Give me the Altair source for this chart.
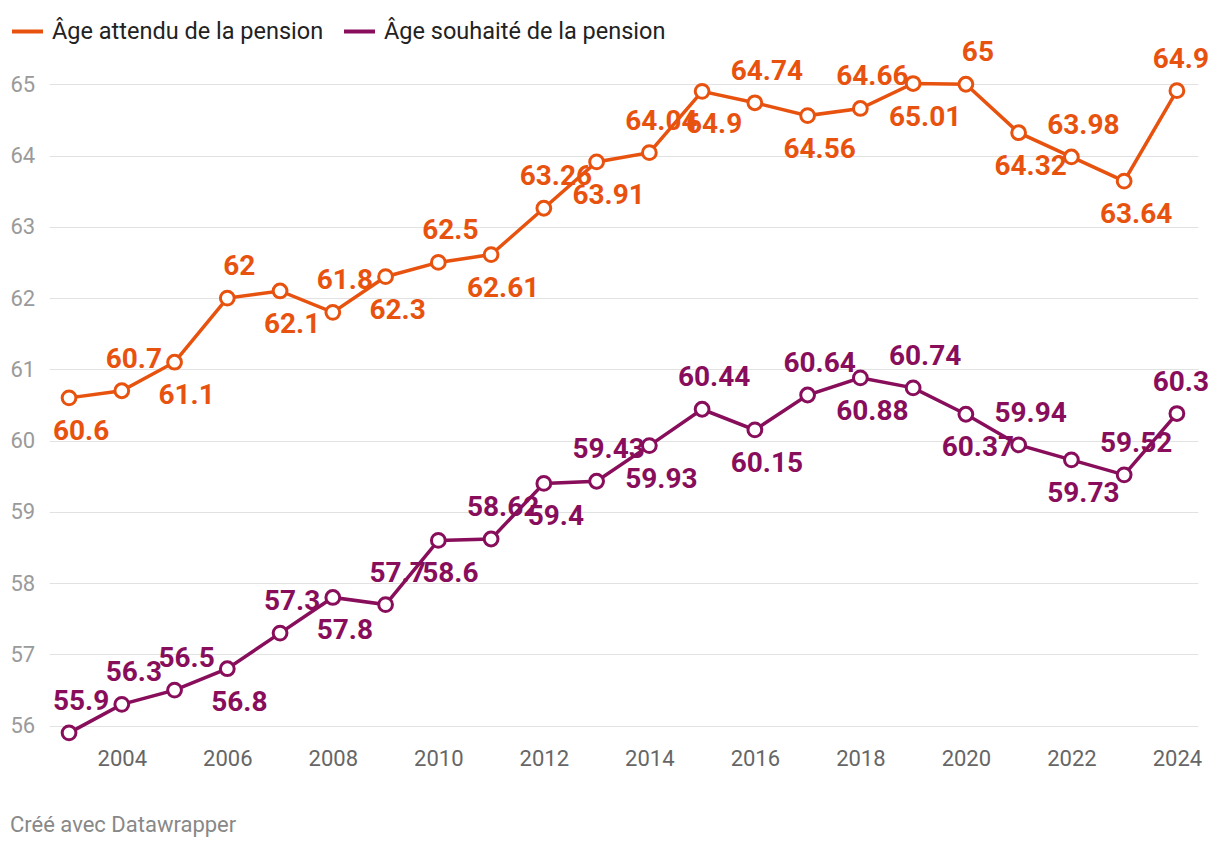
import altair as alt
import pandas as pd

years = list(range(2003, 2025))
expected = [60.6, 60.7, 61.1, 62, 62.1, 61.8, 62.3, 62.5, 62.61, 63.26, 63.91,
            64.04, 64.9, 64.74, 64.56, 64.66, 65.01, 65, 64.32, 63.98, 63.64, 64.91]
desired = [55.9, 56.3, 56.5, 56.8, 57.3, 57.8, 57.7, 58.6, 58.62, 59.4, 59.43,
           59.93, 60.44, 60.15, 60.64, 60.88, 60.74, 60.37, 59.94, 59.73, 59.52, 60.38]
# label placement: a = above the point, b = below
expected_pos = ["b", "a"] * 11
desired_pos = ["a", "a", "a", "b", "a", "b", "a", "b", "a", "b", "a",
               "b", "a", "b", "a", "b", "a", "b", "a", "b", "a", "a"]

s1 = "Âge attendu de la pension"
s2 = "Âge souhaité de la pension"
orange = "#e8520f"
purple = "#880e5b"

rows = []
for y, v, p in zip(years, expected, expected_pos):
    rows.append({"year": y, "value": v, "series": s1, "pos": p})
for y, v, p in zip(years, desired, desired_pos):
    rows.append({"year": y, "value": v, "series": s2, "pos": p})
df = pd.DataFrame(rows)

FONT = "Roboto"

x = alt.X("year:Q",
          scale=alt.Scale(domain=[2002.62, 2024.40], nice=False, zero=False),
          axis=alt.Axis(values=list(range(2004, 2025, 2)), format="d", title=None,
                        grid=False, domain=False, ticks=False, labelPadding=8,
                        labelFontSize=22, labelColor="#666666", labelFont=FONT))
y = alt.Y("value:Q",
          scale=alt.Scale(domain=[55.80, 65.34], nice=False, zero=False),
          axis=alt.Axis(values=list(range(56, 66)), title=None, grid=True,
                        gridColor="#e2e2e2", gridWidth=1, domain=False, ticks=False,
                        labelAlign="left", labelPadding=39, labelFontSize=22,
                        labelColor="#9a9a9a", labelFont=FONT))
color_scale = alt.Scale(domain=[s1, s2], range=[orange, purple])
color = alt.Color("series:N",
                  scale=color_scale,
                  legend=alt.Legend(orient="none", legendX=-39, legendY=-46,
                                    direction="horizontal", title=None,
                                    symbolType="stroke", symbolSize=961,
                                    symbolStrokeWidth=4, labelFontSize=23.5,
                                    labelFont=FONT, labelColor="#222222",
                                    labelOffset=7, columnPadding=12, labelLimit=500))
text_color = alt.Color("series:N", scale=color_scale, legend=None)

base = alt.Chart(df)
lines = base.mark_line(strokeWidth=3.5).encode(x=x, y=y, color=color, detail="series:N")
points = base.mark_point(shape="circle", filled=False, fill="white", fillOpacity=1,
                         strokeWidth=3, size=190, opacity=1).encode(x=x, y=y, color=color)
above = base.transform_filter(alt.datum.pos == "a").mark_text(
    font=FONT, fontSize=28, fontWeight="bold", dy=-31, dx=12, baseline="middle"
).encode(x=x, y=y, color=text_color, text=alt.Text("value:Q", format="~g"))
below = base.transform_filter(alt.datum.pos == "b").mark_text(
    font=FONT, fontSize=28, fontWeight="bold", dy=34, dx=12, baseline="middle"
).encode(x=x, y=y, color=text_color, text=alt.Text("value:Q", format="~g"))

chart = alt.layer(lines, points, above, below).properties(
    width=1149, height=680,
    padding={"left": 41, "top": 52, "right": 12, "bottom": 102},
    autosize=alt.AutoSizeParams(type="none"),
    title=alt.TitleParams(text="Créé avec Datawrapper", orient="bottom", anchor="start",
                          frame="group", dx=-39, offset=46, fontSize=22,
                          font=FONT, fontWeight="normal", color="#888888"),
).configure(background="white").configure_view(stroke=None)

chart.save("out.html", embed_options={"renderer": "svg", "actions": False})
